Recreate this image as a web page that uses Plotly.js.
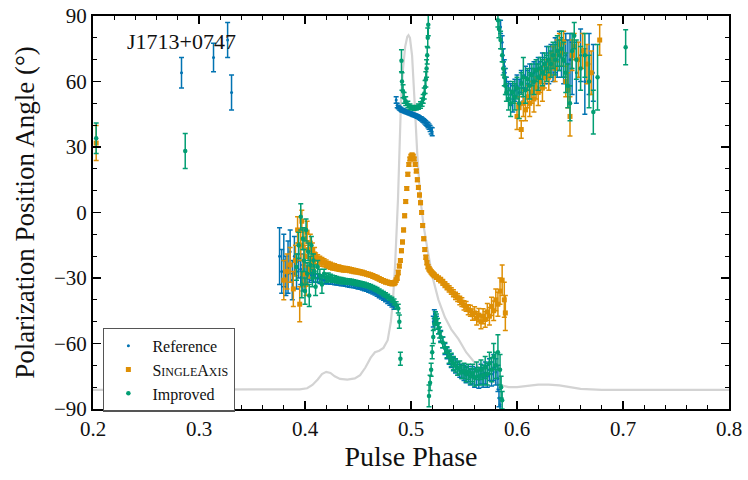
<!DOCTYPE html>
<html><head><meta charset="utf-8">
<script src="https://cdn.plot.ly/plotly-3.0.1.min.js"></script>
<style>html,body{margin:0;padding:0;background:#fff;}#plot{width:748px;height:480px;}</style>
</head><body><div id="plot"></div>
<script>
// ---------- Pulse profile (drawn on PA scale, degrees) ----------
const profPhase = [0.200,0.300,0.380,0.395,0.402,0.407,0.412,0.416,0.420,0.424,0.428,0.433,0.440,0.447,0.452,0.457,0.462,0.466,0.470,0.474,0.478,0.481,0.483,0.485,0.4877,0.4895,0.4906,0.4925,0.4945,0.4965,0.4976,0.4990,0.5010,0.5033,0.5060,0.5090,0.5120,0.5156,0.520,0.5259,0.532,0.538,0.5448,0.552,0.560,0.568,0.576,0.584,0.592,0.600,0.610,0.620,0.630,0.640,0.650,0.660,0.680,0.800];
const profVal = [-81.2,-81.2,-81.2,-81,-80.5,-79,-76.5,-74,-73,-73.5,-75,-76.2,-76.5,-76,-74.5,-71,-66.5,-64,-63.3,-62,-58.5,-50,-40,-24,5.7,35,51.5,66,76,80.5,81.2,80,72,51.5,26,5.7,-6.5,-17,-29,-40,-48,-53.5,-58,-64,-69,-73.5,-77,-79,-80,-80,-79.4,-78.8,-78.8,-79.2,-80,-80.8,-81.2,-81.2];

// ---------- Reference ----------
const refPhase = [0.2835,0.3137,0.327,0.3307,
0.376,0.378,0.380,0.382,0.384,0.386,0.388,0.390,0.392,0.394,0.396,0.398,0.400,
0.402,0.404,0.406,0.408,0.410,0.412,0.414,0.416,0.418,0.420,0.422,0.424,0.426,0.428,0.430,0.432,0.434,0.436,0.438,0.440,0.442,0.444,0.446,0.448,0.450,0.452,0.454,0.456,0.458,0.460,0.462,0.464,0.466,0.468,0.470,0.472,0.474,0.476,0.478,0.480,0.482,0.484,
0.486,0.487,0.488,0.489,0.490,0.491,0.492,0.493,0.494,0.495,0.496,0.497,0.498,0.499,0.500,0.501,0.502,0.503,0.504,0.505,0.506,0.507,0.508,0.509,0.510,0.511,0.512,0.513,0.514,0.515,0.516,0.517,0.518,0.519,0.520,
0.521,0.522,0.523,0.524,0.526,0.528,0.530,0.532,0.534,0.536,0.538,0.540,0.542,0.544,0.546,0.548,0.550,0.552,0.554,0.556,0.558,0.560,0.562,0.564,0.566,0.568,0.570,0.572,0.574,0.576,0.578,0.580,0.582,0.583,0.584,
0.5845,0.586,0.587,0.588,0.589,0.590,0.592,0.594,0.596,0.598,0.600,0.602,0.604,0.606,0.608,0.610,0.612,0.614,0.616,0.618,0.620,0.622,0.624,0.626,0.628,0.630,0.632,0.634,0.636,0.638,0.640,0.642,0.644,0.646,0.648,0.650,0.652,0.656,0.660,0.664,0.668,0.672];
const refPA = [64,71,79,55,
-20,-27,-22,-29,-25,-18,-31,-20,-27,-22,-26,-30,-28,
-27.5,-29,-28.5,-29.5,-30,-30,-30.5,-30.8,-31,-31,-31.2,-31.4,-31.5,-31.7,-31.9,-32,-32.2,-32.4,-32.6,-32.8,-33,-33.2,-33.4,-33.6,-33.9,-34.2,-34.5,-34.8,-35.1,-35.5,-35.9,-36.4,-36.9,-37.5,-38.1,-38.7,-39.4,-40.1,-40.9,-41.7,-42.5,-43.5,
51.5,49,48.3,47.8,47.4,47,46.8,46.6,46.4,46.2,46,45.8,45.6,45.4,45.2,45,44.8,44.6,44.4,44.2,44,43.7,43.4,43.1,42.8,42.4,42,41.5,41,40.5,40,39.3,38.5,37.5,37,
-50,-46.5,-47.5,-49.5,-53,-56.5,-59.5,-62.5,-64.5,-66.5,-68,-69.5,-70.5,-71.5,-72.5,-73,-73.5,-74.5,-74,-75.5,-74.5,-76,-75,-76.5,-74,-75.5,-73.5,-75,-72,-74,-71,-73,-76,-85,-88,
85,78,72,67,62,58,56,54,52,56,58,55,60,57,62,59,63,60,64,62,66,63,67,65,69,66,70,68,72,70,74,71,69,72,68,70,66,64,72,60,68,64];
const refErr = [7,6.5,8,8,
13,10,12,9,12,10,9,9,8,8,7,6,5,
3,3,2.5,2.5,2,2,2,1.8,1.8,1.5,1.5,1.5,1.4,1.4,1.3,1.3,1.3,1.2,1.2,1.2,1.2,1.1,1.1,1.1,1.1,1,1,1,1,1,1,0.9,0.9,0.9,0.9,0.9,0.8,0.8,0.8,0.8,0.8,0.8,
1.5,1,0.8,0.8,0.8,0.8,0.8,0.8,0.8,0.8,0.8,0.8,0.8,0.8,0.8,0.8,0.8,0.8,0.8,0.8,0.8,0.8,0.8,0.8,0.9,0.9,0.9,1,1,1,1.2,1.2,1.4,1.6,1.8,
2.5,2,2,2,2.5,2.5,2.5,2.5,2.5,3,3,3,3,3,3,3,3.5,3.5,3.5,3.5,4,4,4,4,4.5,4.5,5,5,5,5.5,6,6,6,4,3,
3,3,3,3,4,4,4,5,6,5,5,6,5,6,5,6,5,6,5,6,5,6,6,6,7,7,7,8,8,8,9,9,10,10,11,12,12,14,12,15,14,13];

// ---------- SingleAxis ----------
const saPhase = [0.203,
0.380,0.383,0.386,0.389,0.391,0.393,0.395,0.396,0.397,0.398,0.399,0.400,0.401,0.402,0.403,0.404,0.405,0.406,0.407,0.408,0.409,
0.410,0.412,0.414,0.416,0.418,0.420,0.422,0.424,0.426,0.428,0.430,0.432,0.434,0.436,0.438,0.440,0.442,0.444,0.446,0.448,0.450,0.452,0.454,0.456,0.458,0.460,0.462,0.464,0.466,0.468,0.470,0.472,0.474,0.476,0.478,0.480,0.482,0.484,0.485,
0.486,0.487,0.488,0.489,0.490,0.491,0.492,0.493,0.494,0.495,0.496,0.497,0.498,0.499,0.500,0.501,0.502,0.503,0.504,0.505,0.506,0.507,0.508,0.509,0.510,0.511,0.512,0.513,0.514,0.515,0.516,0.517,0.518,0.519,0.520,0.521,0.522,
0.524,0.526,0.528,0.530,0.532,0.534,0.536,0.538,0.540,0.542,0.544,0.546,0.548,0.550,0.552,0.554,0.556,0.558,0.560,0.562,0.564,0.566,0.568,0.570,0.572,0.574,0.576,0.578,0.580,0.582,0.584,0.586,0.588,0.589,
0.600,0.602,0.604,0.606,0.608,0.610,0.612,0.614,0.616,0.618,0.620,0.622,0.624,0.626,0.628,0.630,0.632,0.634,0.636,0.638,0.640,0.642,0.644,0.646,0.648,0.650,0.652,0.654,0.658,0.662,0.666,0.670,0.678];
const saPA = [31.8,
-31,-27,-24,-35,-22,-8,-42,-15,-4,-28,-12,-20,-33,-9,-17,-26,-14,-21,-17,-23,-19,
-21,-21.5,-22,-22.6,-23,-23.5,-24,-24.4,-24.8,-25,-25.3,-25.5,-25.7,-25.9,-26,-26.1,-26.3,-26.5,-26.7,-26.9,-27.1,-27.3,-27.5,-27.8,-28.1,-28.4,-28.7,-29.1,-29.5,-29.9,-30.4,-30.9,-31.3,-31.7,-32,-32.3,-32.5,-32.4,-32,
-31,-30,-27.5,-24.5,-22,-17.5,-13.5,-8,-1.5,5,11,17.5,22,24.5,25.8,26.3,25.8,24.5,22,19,15,11.5,8,4.5,0,-6,-12,-17,-20.5,-23,-24.8,-25.8,-26.5,-27.2,-27.8,-28.3,-28.8,
-29.5,-30.3,-31,-32,-33,-34,-35,-36,-37,-38.2,-39,-40.3,-41,-42.5,-43,-44.5,-45,-46.8,-46,-48.5,-47,-50,-47.5,-49,-45.5,-47.5,-43,-45,-40,-42,-36,-31,-40,-46,
44,48,38,50,47,53,50,55,52,57,55,60,57,62,65,62,68,71,66,74,77,73,78,60,56,44,72,76,70,74,68,64,79];
const saErr = [8,
9,8,8,8,7,6,8,7,5,6,5,5,5,5,4,4,4,4,3,3,3,
2.5,2.2,2,2,1.8,1.8,1.6,1.6,1.5,1.5,1.4,1.4,1.3,1.3,1.3,1.2,1.2,1.2,1.2,1.1,1.1,1.1,1.1,1,1,1,1,1,1,1,1,1,1,1,1,1,1,1,1,
1,1,1,0.8,0.8,0.8,0.8,0.8,0.8,0.8,0.8,0.8,0.8,0.8,0.8,0.8,0.8,0.8,0.8,0.8,0.8,0.8,0.8,0.8,0.8,0.8,0.8,0.8,0.9,0.9,1,1,1,1,1,1,1.1,
1.1,1.2,1.2,1.3,1.3,1.4,1.4,1.5,1.6,1.7,1.8,1.9,2,2.1,2.2,2.3,2.5,2.6,2.8,3,3,3.2,3.4,3.6,3.8,4,4.2,4.5,5,5.5,6,7,8,8,
6,5,4,6,5,5,6,5,6,5,6,5,6,5,5,6,5,5,6,5,5,6,5,7,8,9,7,6,8,8,9,10,7];

// ---------- Improved ----------
const impPhase = [0.203,0.287,
0.392,0.394,0.396,0.397,0.398,0.399,0.400,0.401,0.402,0.403,0.404,0.405,0.406,0.407,0.408,0.409,0.410,0.412,0.414,0.416,0.418,0.420,
0.422,0.424,0.426,0.428,0.430,0.432,0.434,0.436,0.438,0.440,0.442,0.444,0.446,0.448,0.450,0.452,0.454,0.456,0.458,0.460,0.462,0.464,0.466,0.468,0.470,0.472,0.474,0.476,0.478,0.480,0.482,0.484,0.486,0.488,0.489,0.490,
0.491,0.4915,0.4925,0.4935,0.495,0.497,0.499,0.501,0.503,0.505,0.507,0.509,0.5105,0.5115,0.5125,0.5133,0.514,0.5147,0.5153,0.5158,0.5163,
0.517,0.518,0.519,0.520,0.521,0.522,0.523,0.524,0.525,0.526,0.527,0.528,0.530,0.532,0.534,0.536,0.538,0.540,0.542,0.544,0.546,0.548,0.550,0.552,0.554,0.556,0.558,0.560,0.562,0.564,0.566,0.568,0.570,0.572,0.574,0.576,0.578,0.580,0.582,0.584,0.585,0.586,
0.582,0.583,0.5845,0.586,0.587,0.588,0.589,0.590,0.592,0.594,0.596,0.598,0.600,0.602,0.604,0.606,0.608,0.610,0.612,0.614,0.616,0.618,0.620,0.622,0.624,0.626,0.628,0.630,0.632,0.634,0.636,0.638,0.640,0.642,0.644,0.646,0.648,0.650,0.652,0.654,0.656,0.660,0.664,0.668,0.672,0.676,0.7025];
const impPA = [34,28.2,
-25,-15,-2,-33,-12,-22,-36,-8,-28,-18,-38,-24,-15,-30,-22,-27,-34,-25,-29,-33,-28,-30,
-29.5,-30,-30.3,-30.5,-30.8,-31,-31.2,-31.3,-31.5,-31.6,-31.7,-31.8,-32,-32.2,-32.4,-32.6,-32.8,-33,-33.3,-33.6,-34,-34.4,-34.9,-35.4,-36,-36.6,-37.2,-37.8,-38.5,-39.2,-40,-41,-42.5,-44,-50,-67,
69.5,60,55.5,52.5,51,49.5,48.5,48,47.8,48,48.5,49.2,50.5,52,54.5,57.5,61,66,72,80,86,
-84,-78,-72,-64,-57,-51,-48,-49,-51,-53,-55,-57,-59.5,-62,-64,-66,-67.5,-69,-70,-71.5,-71,-73,-72.5,-74,-73,-75,-73.5,-75.5,-72.5,-75,-72,-74.5,-71,-74,-69,-72,-66,-70,-64,-72,-80,-86,
88,84,79,72,66,62,58,55,52,50,55,53,57,50,59,62,56,61,58,63,60,65,62,66,64,68,66,70,68,72,70,74,72,75,70,64,58,50,74,81,70,66,72,60,46,62,75.7];
const impErr = [7,8,
6,6,6,6,5,5,6,5,5,4,5,4,4,4,3,3,4,3,3,4,2,2,
1.8,1.7,1.6,1.5,1.5,1.4,1.4,1.3,1.3,1.3,1.2,1.2,1.2,1.2,1.1,1.1,1.1,1.1,1,1,1,1,1,1,1,1,1,1,1,1,1.2,1.4,1.6,2,3,3,
5,4,3,2.5,2,1.5,1.2,1,1,1,1.2,1.5,1.8,2,2.5,3,3.5,4,4,4.5,5,
5,3.5,3,3,3,2.5,2.5,2.5,2.5,2.5,2.5,2.5,2.5,2.5,2.5,3,3,3,3,3,3,3,3.5,3.5,3.5,3.5,4,4,4,4,4.5,4.5,5,5,5,5.5,6,6,8,7,5,4,
3,4,4,3,3,4,4,4,5,6,5,6,5,7,5,9,6,5,6,5,6,5,6,5,6,5,6,6,6,6,7,7,7,8,8,9,10,8,8,6,9,10,10,12,10,15,8];

const cRef = '#0173b2', cSA = '#de8f05', cImp = '#029e73';
const serif = 'Liberation Serif, Times New Roman, serif';

const traces = [
  {x: profPhase, y: profVal, type:'scatter', mode:'lines', line:{color:'#d3d3d3', width:2.2}, showlegend:false, hoverinfo:'skip'},
  {x: refPhase, y: refPA, type:'scatter', mode:'markers', name:'Reference',
   marker:{color:cRef, size:3, symbol:'circle'},
   error_y:{type:'data', array: refErr, visible:true, color:cRef, thickness:1.5, width:2.5}},
  {x: saPhase, y: saPA, type:'scatter', mode:'markers', name:'S<span style="font-size:12px">INGLE</span>A<span style="font-size:12px">XIS</span>',
   marker:{color:cSA, size:5, symbol:'square'},
   error_y:{type:'data', array: saErr, visible:true, color:cSA, thickness:1.5, width:2.5}},
  {x: impPhase, y: impPA, type:'scatter', mode:'markers', name:'Improved',
   marker:{color:cImp, size:4.5, symbol:'circle'},
   error_y:{type:'data', array: impErr, visible:true, color:cImp, thickness:1.5, width:2.5}}
];

const axisCommon = {showline:true, linecolor:'black', linewidth:2, mirror:'allticks', ticks:'inside',
  ticklen:8, tickwidth:1.5, tickcolor:'black', showgrid:false, zeroline:false,
  tickfont:{family:serif, size:21, color:'#111'}};

const layout = {
  width:748, height:480,
  margin:{l:93, r:19, t:16, b:71},
  paper_bgcolor:'white', plot_bgcolor:'white',
  font:{family:serif, color:'#111'},
  xaxis: Object.assign({}, axisCommon, {range:[0.2,0.8], dtick:0.1, tick0:0.2, tickformat:'.1f',
    minor:{dtick:0.02, ticklen:4, tickwidth:1.2, ticks:'inside', tickcolor:'black'},
    title:{text:'Pulse Phase', font:{family:serif, size:28}, standoff:4}}),
  yaxis: Object.assign({}, axisCommon, {range:[-90,90], dtick:30, tick0:0,
    minor:{dtick:10, ticklen:4, tickwidth:1.2, ticks:'inside', tickcolor:'black'},
    title:{text:'Polarization Position Angle (°)', font:{family:serif, size:27}, standoff:12}}),
  legend:{x:0.016, y:0.207, xanchor:'left', yanchor:'top', bgcolor:'white', bordercolor:'#555', borderwidth:1.2,
    itemwidth:38, font:{family:serif, size:16}},
  annotations:[{xref:'paper', yref:'paper', x:0.05, y:0.936, xanchor:'left', yanchor:'middle', showarrow:false,
    text:'J1713+0747', font:{family:serif, size:22, color:'#111'}}]
};

Plotly.newPlot('plot', traces, layout, {staticPlot:true, displayModeBar:false});
</script></body></html>
